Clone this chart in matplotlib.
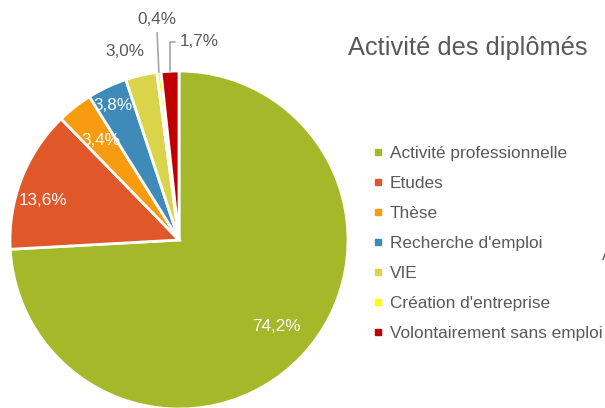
import numpy as np
import matplotlib.pyplot as plt
from matplotlib.lines import Line2D

plt.rcParams['font.family'] = ['Liberation Sans Narrow', 'Liberation Sans', 'DejaVu Sans']

categories = ['Activité professionnelle', 'Etudes', 'Thèse', "Recherche d'emploi",
              'VIE', "Création d'entreprise", 'Volontairement sans emploi']
values = [74.2, 13.6, 3.4, 3.8, 3.0, 0.4, 1.7]
labels = ['74,2%', '13,6%', '3,4%', '3,8%', '3,0%', '0,4%', '1,7%']
colors = ['#A5B829', '#E0572A', '#F99B0E', '#3E8AB8', '#D9D44A', '#FFFF00', '#C00000']

# label placement: (radius, angle shift in degrees, colour, leader line)
label_style = [(0.77, 2, 'white', None), (0.84, 5, 'white', None), (0.75, 0, 'white', None),
               (0.89, 1, 'white', None), (1.16, 3, '#595959', None),
               (1.31, -1, '#595959', 'straight'), (1.18, -9, '#595959', 'angle')]

grey = '#595959'
fig = plt.figure(figsize=(6.05, 4.08), dpi=100)
ax = fig.add_axes([10 / 605, -1 / 408, 338 / 605, 338 / 408])

wedges, _ = ax.pie(values, colors=colors, startangle=90, counterclock=False,
                   wedgeprops=dict(edgecolor='white', linewidth=2), radius=1)
ax.set_xlim(-1, 1)
ax.set_ylim(-1, 1)
ax.set_aspect('equal')
ax.axis('off')

for w, lab, (r, shift, col, leader) in zip(wedges, labels, label_style):
    mid = np.deg2rad((w.theta1 + w.theta2) / 2 + shift)
    amid = np.deg2rad((w.theta1 + w.theta2) / 2)
    pos = (r * np.cos(mid), r * np.sin(mid))
    if leader is None:
        ax.text(*pos, lab, color=col, fontsize=12.3, ha='center', va='center')
    else:
        edge = (np.cos(amid), np.sin(amid))
        cs = 'arc3' if leader == 'straight' else 'angle,angleA=0,angleB=90,rad=0'
        ax.annotate(lab, xy=edge, xytext=pos, color=col, fontsize=12.3,
                    ha='center', va='center', annotation_clip=False,
                    arrowprops=dict(arrowstyle='-', color='#A6A6A6', lw=1.2,
                                    connectionstyle=cs, shrinkA=2, shrinkB=0))

fig.text(348 / 605, 1 - 48 / 408, 'Activité des diplômés', fontsize=18.3,
         color=grey, ha='left', va='center')

handles = [Line2D([], [], marker='s', linestyle='none', markersize=5,
                  markerfacecolor=c, markeredgecolor=c) for c in colors]
fig.legend(handles, categories, loc='upper left', bbox_to_anchor=(371 / 605, 1 - 146 / 408),
           frameon=False, fontsize=12.4, labelcolor=grey, handlelength=0.8,
           handletextpad=0.3, labelspacing=0.87, borderaxespad=0, borderpad=0)

fig.text(602 / 605, 1 - 255 / 408, 'A', fontsize=12, color=grey, ha='left', va='center')

fig.savefig('out.png', dpi=100)
